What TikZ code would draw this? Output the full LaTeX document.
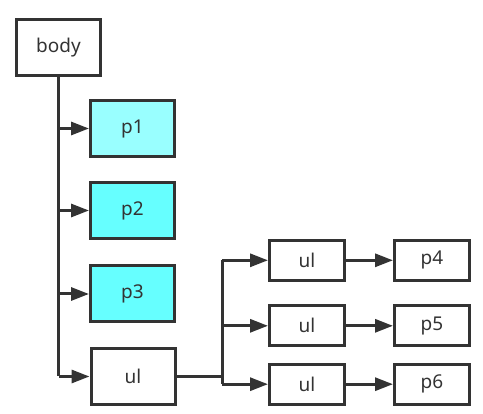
\documentclass[tikz,border=0pt]{standalone}
\usepackage{fontspec}
\setmainfont{Noto Sans}
\usetikzlibrary{arrows.meta,calc}
\definecolor{ink}{HTML}{333333}
\definecolor{cyanA}{HTML}{99FFFF}
\definecolor{cyanB}{HTML}{66FFFF}
\tikzset{
  big/.style={draw=ink, line width=3pt, minimum width=84pt, minimum height=56pt, inner sep=0pt, text=ink, font=\fontsize{19}{23}\selectfont},
  small/.style={draw=ink, line width=3pt, minimum width=75pt, minimum height=40pt, inner sep=0pt, text=ink, font=\fontsize{19}{23}\selectfont},
  link/.style={draw=ink, line width=3pt},
  arr/.style={link, -{Triangle[length=18pt,width=13pt]}},
}
\begin{document}
\begin{tikzpicture}[x=1pt,y=-1pt]
\useasboundingbox (0,0) rectangle (483,414);
\node[big] (body) at (58.5,47.5) {body};
\node[big, fill=cyanA] (p1) at (132.5,128.5) {p1};
\node[big, fill=cyanB] (p2) at (132.5,210.5) {p2};
\node[big, fill=cyanB] (p3) at (132.5,294) {p3};
\node[big] (ulm) at (133,376.5) {ul};
\node[small] (u1) at (307,260.3) {ul};
\node[small] (u2) at (307,325.8) {ul};
\node[small] (u3) at (307,384.2) {ul};
\node[small] (q4) at (432,260.3) {p4};
\node[small] (q5) at (432,325.8) {p5};
\node[small] (q6) at (432,384.2) {p6};
\coordinate (j) at (222,376.5);
% trunk
\draw[link] (body.south) -- (body.south |- ulm.west);
\draw[arr] (body.south |- p1.west) -- (p1.west);
\draw[arr] (body.south |- p2.west) -- (p2.west);
\draw[arr] (body.south |- p3.west) -- (p3.west);
\draw[arr] (body.south |- ulm.west) -- (ulm.west);
% junction
\draw[link] (ulm.east) -- (j);
\draw[link] (j |- u1.west) -- (j |- u3.west);
\draw[arr] (j |- u1.west) -- (u1.west);
\draw[arr] (j |- u2.west) -- (u2.west);
\draw[arr] (j |- u3.west) -- (u3.west);
% right
\draw[arr] (u1) -- (q4);
\draw[arr] (u2) -- (q5);
\draw[arr] (u3) -- (q6);
\end{tikzpicture}
\end{document}
